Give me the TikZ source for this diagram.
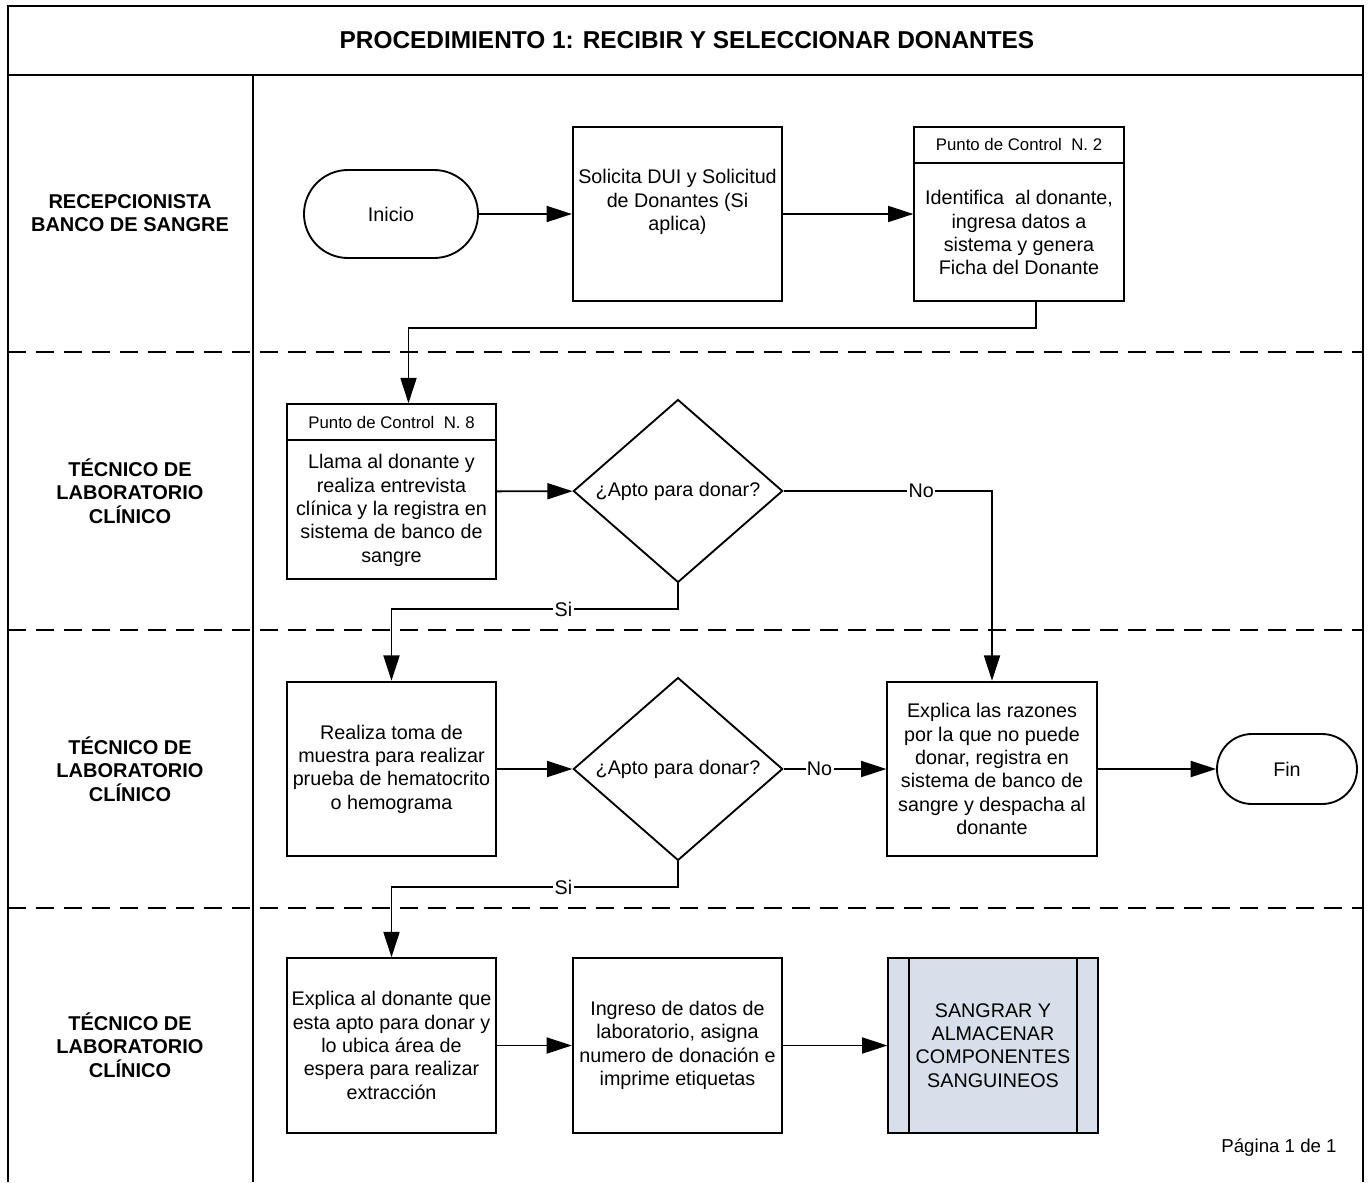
\documentclass[tikz,border=0pt]{standalone}
\usepackage{fontspec}
\setmainfont{Liberation Sans}
\usepackage{tikz}
\usetikzlibrary{positioning}
\usetikzlibrary{arrows.meta,shapes.geometric,shapes.misc}
\usetikzlibrary{calc}

\definecolor{subproc}{RGB}{214,223,234}
\newcommand{\txtsz}{\fontsize{14.8}{17.5}\selectfont}
\newcommand{\hdrsz}{\fontsize{12.6}{14}\selectfont}
\newcommand{\lanesz}{\fontsize{15}{17.6}\selectfont\bfseries}

\begin{document}
\begin{tikzpicture}[x=0.75pt, y=-0.75pt,
  proc/.style={draw, line width=1.4pt, minimum width=157pt, minimum height=131pt, inner sep=2pt, align=center, font=\txtsz},
  hdr/.style={draw, line width=1.4pt, minimum width=157pt, minimum height=27pt, inner sep=0pt, font=\hdrsz},
  txt/.style={align=center, inner sep=0pt, font=\txtsz},
  dec/.style={diamond, draw, line width=1.4pt, minimum width=157pt, minimum height=129pt, inner sep=0pt, font=\txtsz},
  term/.style={rounded rectangle, draw, line width=1.4pt, inner sep=0pt, font=\txtsz},
  lane/.style={align=center, font=\lanesz},
  lbl/.style={fill=white, inner sep=1pt, font=\txtsz},
  flow/.style={line width=1.4pt, -{Triangle[length=19pt,width=12pt]}},
  sep/.style={line width=1.5pt, dash pattern=on 13.5pt off 7.5pt}
]
\useasboundingbox (0,0) rectangle (1371,1182);

% frame and lanes
\draw[line width=1.5pt] (8,1182) -- (8,6) -- (1363,6) -- (1363,1182);
\draw[line width=1.5pt] (8,75) -- (1363,75);
\draw[line width=1.5pt] (253,75) -- (253,1182);
\draw[sep] (8,352) -- (1363,352);
\draw[sep] (8,630) -- (1363,630);
\draw[sep] (8,908) -- (1363,908);

\node[font=\fontsize{18.3}{21}\selectfont\bfseries] (title) at (687,40) {PROCEDIMIENTO 1: RECIBIR Y SELECCIONAR DONANTES};

\node[lane] (l1) at (130,213) {RECEPCIONISTA\\BANCO DE SANGRE};
\node[lane] (l2) at (130,491) {TÉCNICO DE\\LABORATORIO\\CLÍNICO};
\node[lane] (l3) at (130,769) {TÉCNICO DE\\LABORATORIO\\CLÍNICO};
\node[lane] (l4) at (130,1045) {TÉCNICO DE\\LABORATORIO\\CLÍNICO};

% lane 1
\node[term, minimum width=130.5pt, minimum height=66pt] (ini) at (391,214) {Inicio};
\node[proc] (sol) at (677.5,214) {};
\node[txt] (solt) at ($(sol.center)+(0,-12)$) {Solicita DUI y Solicitud\\de Donantes (Si\\aplica)};
\node[proc] (pc2) at (1019,214) {};
\node[hdr, anchor=north] (pc2h) at (pc2.north) {Punto de Control\ \ N. 2};
\node[txt] (pc2t) at ($(pc2h.south)!0.5!(pc2.south)$) {Identifica\ \ al donante,\\ingresa datos a\\sistema y genera\\Ficha del Donante};

% lane 2
\node[proc] (pc8) at (391.5,491.5) {};
\node[hdr, anchor=north] (pc8h) at (pc8.north) {Punto de Control\ \ N. 8};
\node[txt] (pc8t) at ($(pc8h.south)!0.5!(pc8.south)$) {Llama al donante y\\realiza entrevista\\clínica y la registra en\\sistema de banco de\\sangre};
\node[dec] (d1) at (678,491) {¿Apto para donar?};

% lane 3
\node[proc] (real) at (391.5,769) {Realiza toma de\\muestra para realizar\\prueba de hematocrito\\o hemograma};
\node[dec] (d2) at (678,769) {¿Apto para donar?};
\node[proc] (expl) at (992,769) {Explica las razones\\por la que no puede\\donar, registra en\\sistema de banco de\\sangre y despacha al\\donante};
\node[term, minimum width=105pt, minimum height=52.5pt] (fin) at (1287,769) {Fin};

% lane 4
\node[proc] (expal) at (391.5,1045.5) {Explica al donante que\\esta apto para donar y\\lo ubica área de\\espera para realizar\\extracción};
\node[proc] (ing) at (677.5,1045.5) {Ingreso de datos de\\laboratorio, asigna\\numero de donación e\\imprime etiquetas};
\node[proc, fill=subproc] (sang) at (993,1045.5) {SANGRAR Y\\ALMACENAR\\COMPONENTES\\SANGUINEOS};
\draw[line width=1.4pt] ($(sang.north west)+(22,0)$) -- ($(sang.south west)+(22,0)$);
\draw[line width=1.4pt] ($(sang.north east)+(-22,0)$) -- ($(sang.south east)+(-22,0)$);

\node[font=\fontsize{14}{16}\selectfont] (pag) at (1279,1148) {Página 1 de 1};

% connectors
\draw[flow] (ini) -- (sol);
\draw[flow] (sol) -- (pc2);
\draw[flow] ($(pc2.south)+(17,0)$) -- ++(0,26) -| ($(pc8.north)+(17,0)$);
\draw[flow] (pc8) -- (d1);
\draw[flow] (d1.east) -| node[lbl, pos=0.33] {No} (expl.north);
\draw[flow] (d1.south) -- ++(0,26) -| node[lbl, pos=0.2] {Si} (real.north);
\draw[flow] (real) -- (d2);
\draw[flow] (d2.east) -- node[lbl, pos=0.35] {No} (expl.west);
\draw[flow] (expl) -- (fin);
\draw[flow] (d2.south) -- ++(0,26) -| node[lbl, pos=0.2] {Si} (expal.north);
\draw[flow] (expal) -- (ing);
\draw[flow] (ing) -- (sang);

\end{tikzpicture}
\end{document}
